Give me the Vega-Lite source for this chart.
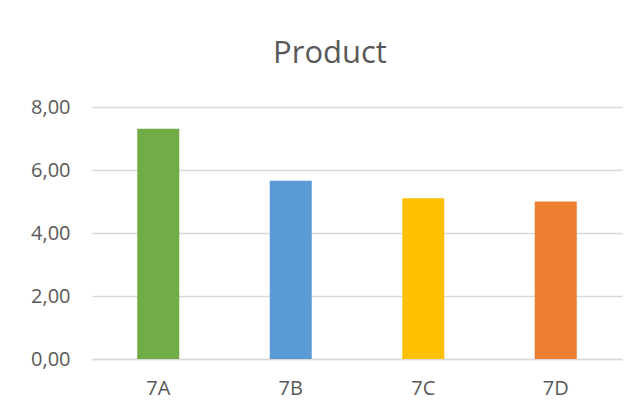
{
  "$schema": "https://vega.github.io/schema/vega-lite/v6.json",
  "autosize": {"type": "none"},
  "padding": {"left": 92, "top": 107, "right": 21, "bottom": 60},
  "width": 530,
  "height": 252,
  "background": "white",
  "title": {
    "text": "Product",
    "font": "Open Sans",
    "fontSize": 31,
    "fontWeight": "normal",
    "color": "#595959",
    "anchor": "middle",
    "dx": -27,
    "baseline": "alphabetic",
    "offset": 3
  },
  "data": {
    "values": [
      {"product": "7A", "value": 7.31},
      {"product": "7B", "value": 5.66},
      {"product": "7C", "value": 5.10},
      {"product": "7D", "value": 5.00}
    ]
  },
  "mark": {"type": "bar", "size": 42},
  "encoding": {
    "x": {
      "field": "product",
      "type": "nominal",
      "sort": null,
      "scale": {"paddingInner": 0, "paddingOuter": 0},
      "axis": {
        "title": null,
        "labelAngle": 0,
        "ticks": false,
        "domain": true,
        "domainColor": "#D9D9D9",
        "domainWidth": 1.5,
        "labelFont": "Open Sans",
        "labelFontSize": 20,
        "labelColor": "#595959",
        "labelPadding": 19
      }
    },
    "y": {
      "field": "value",
      "type": "quantitative",
      "scale": {"domain": [0, 8], "nice": false},
      "axis": {
        "title": null,
        "values": [0, 2, 4, 6, 8],
        "ticks": false,
        "domain": false,
        "gridColor": "#D9D9D9",
        "gridWidth": 1.5,
        "labelFont": "Open Sans",
        "labelFontSize": 20,
        "labelColor": "#595959",
        "labelPadding": 22,
        "labelExpr": "replace(format(datum.value, '.2f'), '.', ',')"
      }
    },
    "color": {
      "field": "product",
      "type": "nominal",
      "scale": {"domain": ["7A", "7B", "7C", "7D"], "range": ["#70AD47", "#5B9BD5", "#FFC000", "#ED7D31"]},
      "legend": null
    }
  },
  "config": {"view": {"stroke": null}}
}
